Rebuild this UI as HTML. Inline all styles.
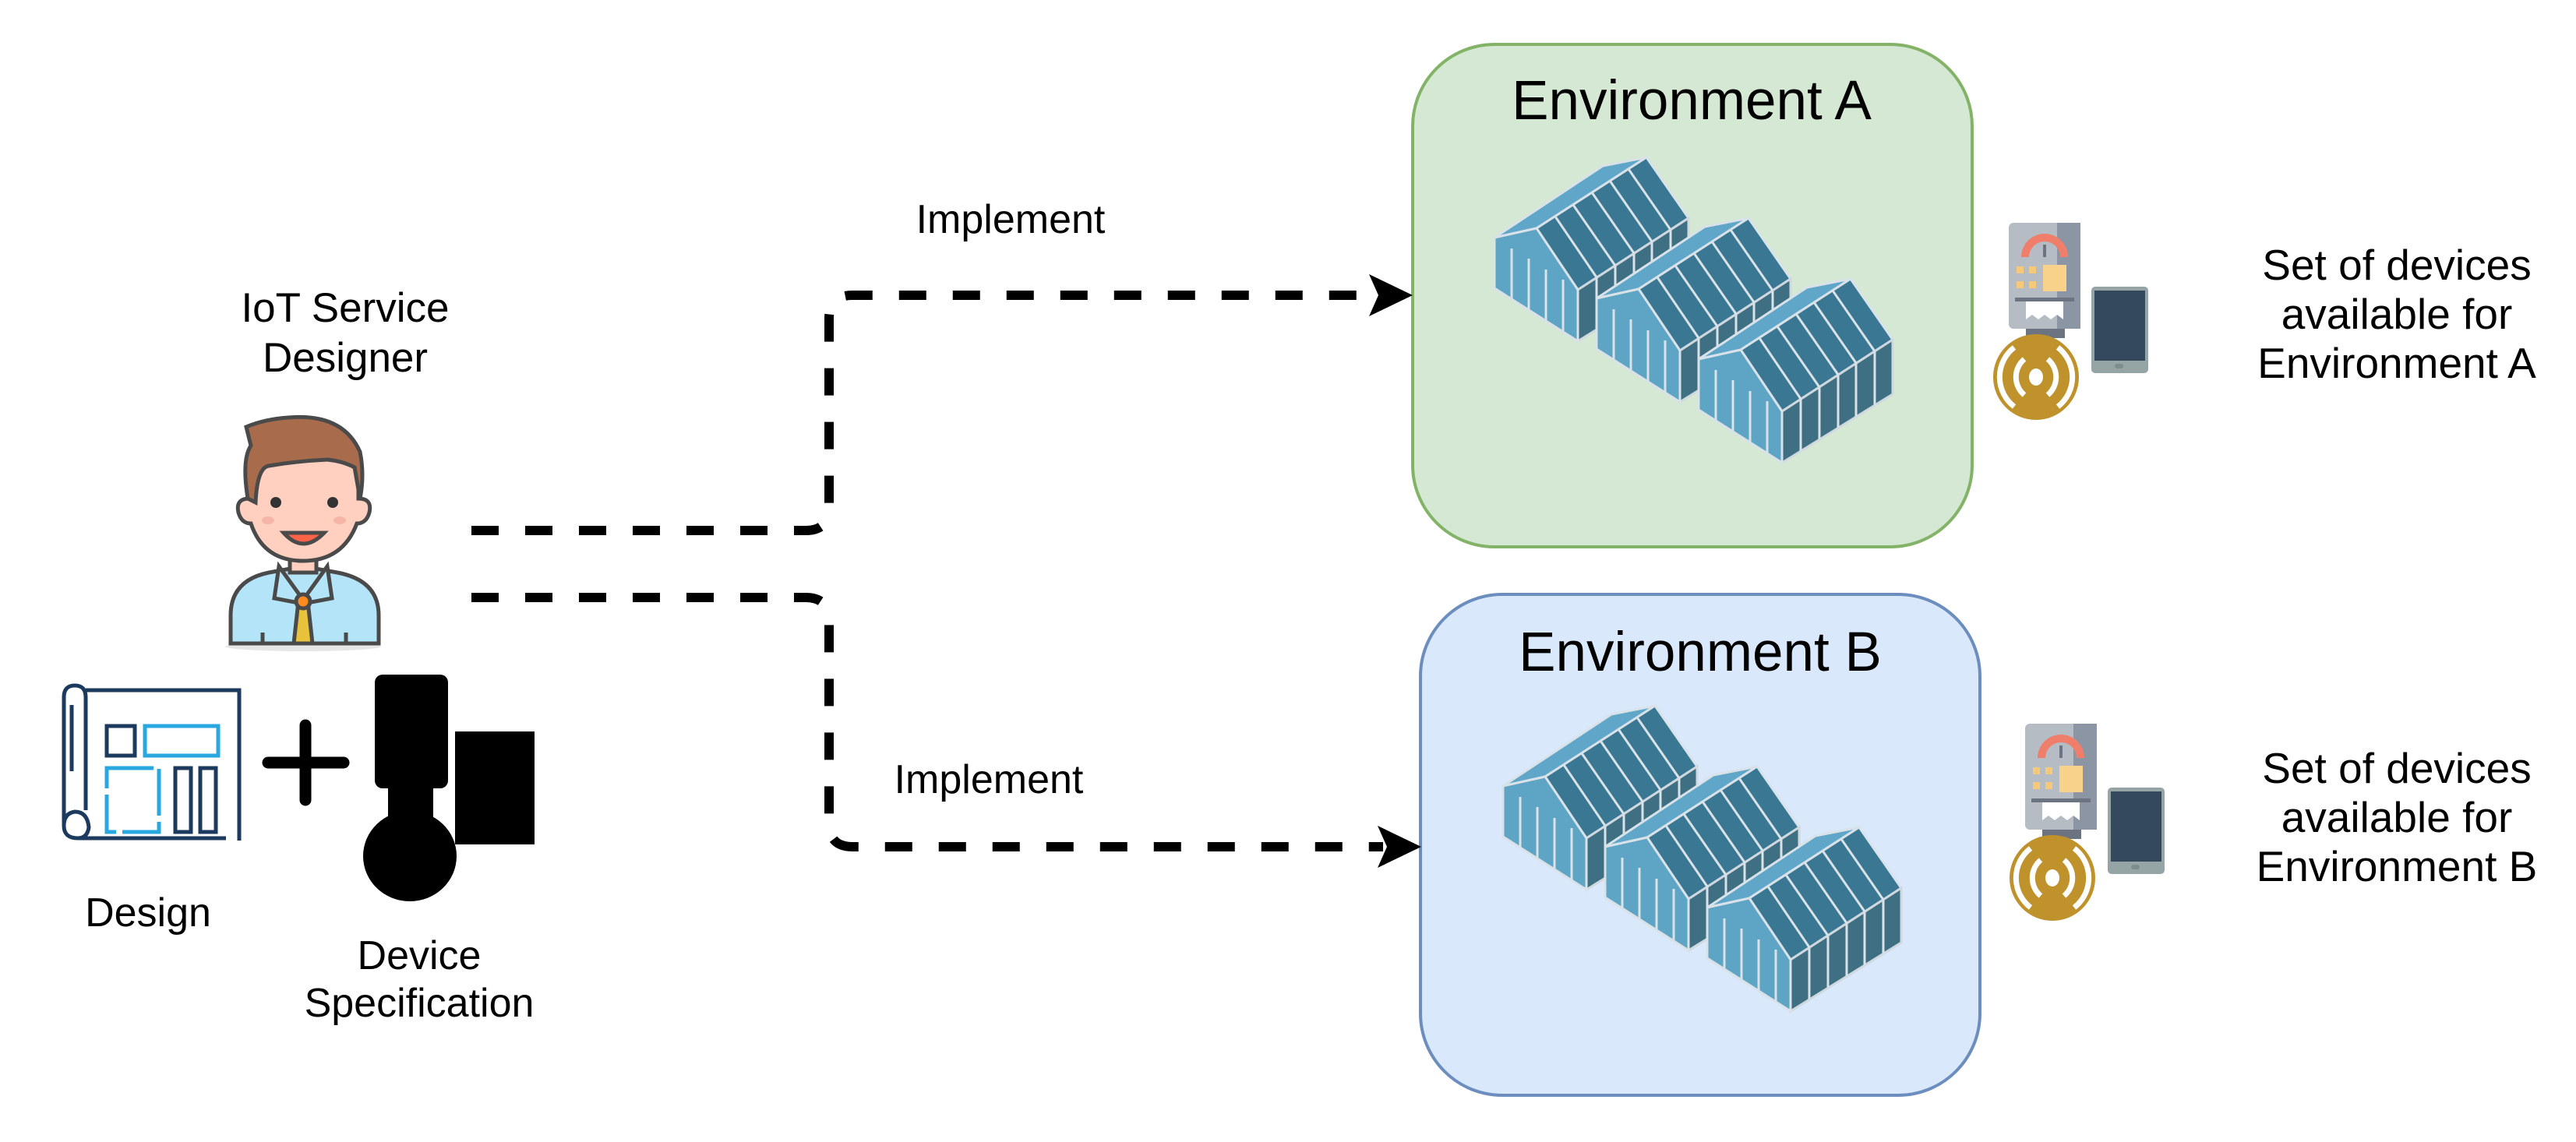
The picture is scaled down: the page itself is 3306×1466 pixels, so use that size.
<!DOCTYPE html>
<html><head><meta charset="utf-8"><style>
html,body{margin:0;padding:0;background:#fff;}
svg{display:block;}
text{font-family:"Liberation Sans",Arial,sans-serif;fill:#000;}
</style></head><body>
<svg width="3306" height="1466" viewBox="0 0 3306 1466" xmlns="http://www.w3.org/2000/svg">
<defs>
  <g id="gh">
    <!-- left roof plane -->
    <polygon points="0,0 54,-12 195,-103 139,-92" fill="#5fa6c9" stroke="#d8e2e8" stroke-width="3"/>
    <!-- right roof plane -->
    <polygon points="54,-12 195,-103 249,-25 107,67" fill="#3a7792" stroke="#d8e2e8" stroke-width="3"/>
    <!-- side wall -->
    <polygon points="107,67 249,-25 249,45 107,133" fill="#3f6f82" stroke="#cfd8de" stroke-width="3"/>
    <!-- front gable wall -->
    <polygon points="0,0 54,-12 107,67 107,133 0,65" fill="#5ea4c4" stroke="#d8e2e8" stroke-width="3"/>
    <g stroke="#d8e2e8" stroke-width="3">
      <line x1="78" y1="-27" x2="131" y2="51"/>
      <line x1="101" y1="-42" x2="155" y2="36"/>
      <line x1="125" y1="-58" x2="179" y2="20"/>
      <line x1="148" y1="-73" x2="202" y2="5"/>
      <line x1="172" y1="-88" x2="226" y2="-10"/>
      <line x1="22" y1="14" x2="22" y2="79"/>
      <line x1="44" y1="27" x2="44" y2="92"/>
      <line x1="66" y1="41" x2="66" y2="106"/>
      <line x1="88" y1="54" x2="88" y2="120"/>
      <line x1="131" y1="51" x2="131" y2="118"/>
      <line x1="155" y1="36" x2="155" y2="103"/>
      <line x1="179" y1="20" x2="179" y2="88"/>
      <line x1="202" y1="5" x2="202" y2="74"/>
      <line x1="226" y1="-10" x2="226" y2="60"/>
    </g>
  </g>
  <g id="ghs">
    <use href="#gh" x="0" y="0"/>
    <use href="#gh" x="131" y="78"/>
    <use href="#gh" x="262" y="156"/>
  </g>
  <g id="dev">
    <rect x="0" y="0" width="92" height="136" rx="6" fill="#b5bcc4"/>
    <rect x="62" y="0" width="30" height="136" fill="#8b95a3"/>
    <path d="M16,44 A30,30 0 0 1 76,44 L66,44 A20,20 0 0 0 26,44 Z" fill="#ef7f6a"/>
    <rect x="44" y="28" width="4" height="16" fill="#6b7480"/>
    <rect x="10" y="56" width="9" height="9" fill="#f6c97a"/><rect x="26" y="56" width="9" height="9" fill="#f6c97a"/>
    <rect x="10" y="75" width="9" height="9" fill="#f6c97a"/><rect x="26" y="75" width="9" height="9" fill="#f6c97a"/>
    <rect x="44" y="54" width="30" height="34" fill="#f8d28a"/>
    <rect x="8" y="96" width="76" height="5" fill="#6b7480"/>
    <path d="M22,101 H70 V124 L62,118 L54,124 L46,118 L38,124 L30,118 L22,124 Z" fill="#fff"/>
    <rect x="22" y="136" width="50" height="12" fill="#6b7480"/>
    <ellipse cx="35" cy="198" rx="55" ry="55" fill="#c0922c"/>
    <g fill="none" stroke="#fff" stroke-width="7">
      <path d="M20,175 A30,30 0 0 0 20,221"/><path d="M50,175 A30,30 0 0 1 50,221"/>
      <path d="M7,160 A48,48 0 0 0 7,236"/><path d="M63,160 A48,48 0 0 1 63,236"/>
    </g>
    <ellipse cx="35" cy="198" rx="9" ry="11" fill="#fff"/>
    <rect x="106" y="82" width="73" height="111" rx="5" fill="#95a5a6"/>
    <rect x="110" y="87" width="65" height="90" fill="#34495e"/>
    <rect x="136" y="181" width="11" height="6" rx="3" fill="#7f8c8d"/>
  </g>
</defs>

<!-- Environment A -->
<rect x="1813" y="57" width="718" height="645" rx="105" fill="#d5e8d4" stroke="#82b366" stroke-width="4"/>
<text x="2171" y="153" font-size="71" text-anchor="middle">Environment A</text>
<use href="#ghs" x="1918" y="305"/>

<!-- Environment B -->
<rect x="1823" y="763" width="718" height="643" rx="105" fill="#dae8fc" stroke="#6c8ebf" stroke-width="4"/>
<text x="2182" y="861" font-size="71" text-anchor="middle">Environment B</text>
<use href="#ghs" x="1929" y="1009"/>

<!-- devices -->
<use href="#dev" x="2578" y="286"/>
<use href="#dev" x="2599" y="929"/>
<g font-size="55" text-anchor="middle">
<text x="3076" y="359">Set of devices</text>
<text x="3076" y="422">available for</text>
<text x="3076" y="485">Environment A</text>
<text x="3076" y="1005">Set of devices</text>
<text x="3076" y="1068">available for</text>
<text x="3076" y="1131">Environment B</text>
</g>

<!-- connectors -->
<g fill="none" stroke="#000" stroke-width="12" stroke-dasharray="35 34">
  <path d="M605,681 H1034 Q1064,681 1064,651 V409 Q1064,379 1094,379 H1765"/>
  <path d="M605,767 H1034 Q1064,767 1064,797 V1057 Q1064,1087 1094,1087 H1775"/>
</g>
<polygon points="1813,379 1757,352 1769,379 1757,406" fill="#000"/>
<polygon points="1824,1087 1768,1060 1780,1087 1768,1114" fill="#000"/>
<g font-size="52" text-anchor="middle">
<text x="1297" y="299">Implement</text>
<text x="1269" y="1018">Implement</text>
</g>

<!-- Designer -->
<g font-size="53" text-anchor="middle">
<text x="443" y="413">IoT Service</text>
<text x="443" y="477">Designer</text>
</g>
<g stroke="#4a4a4a" stroke-width="5">
  <ellipse cx="389" cy="830" rx="100" ry="6" fill="#e6e6e6" stroke="none"/>
  <path d="M296,826 V790 Q296,745 345,735 L389,727 L433,735 Q486,745 486,790 V826 Z" fill="#b3e4f8"/>
  <rect x="372" y="700" width="34" height="35" fill="#ffcfc0"/>
  <path d="M358,727 L389,770 L420,727 L426,768 L389,775 L352,768 Z" fill="#b3e4f8"/>
  <path d="M383,772 L395,772 L401,826 L377,826 Z" fill="#e8c23a"/>
  <circle cx="389" cy="772" r="9" fill="#ff8a1e"/>
  <line x1="337" y1="812" x2="337" y2="826"/><line x1="444" y1="812" x2="444" y2="826"/>
  <path d="M320,600 Q320,560 389,558 Q460,560 460,600 L460,640 Q478,640 474,658 Q470,672 458,672 Q440,720 389,720 Q338,720 322,672 Q310,672 306,658 Q302,640 320,640 Z" fill="#ffcfc0"/>
  <path d="M318,640 Q310,590 322,572 L316,548 Q340,538 370,536 Q440,530 462,580 Q468,610 462,640 L455,600 Q440,592 420,590 Q380,592 345,598 Q330,600 328,645 Z" fill="#a86b4c"/>
  <circle cx="354" cy="645" r="7" fill="#333" stroke="none"/>
  <circle cx="427" cy="645" r="7" fill="#333" stroke="none"/>
  <path d="M364,684 Q389,712 416,684 Z" fill="#ff6347"/>
  <ellipse cx="344" cy="668" rx="8" ry="5" fill="#f7b5a8" stroke="none"/>
  <ellipse cx="436" cy="668" rx="8" ry="5" fill="#f7b5a8" stroke="none"/>
</g>

<!-- Design icon -->
<g fill="none" stroke="#1c3a5e" stroke-width="5">
  <path d="M100,1076 H290"/>
  <path d="M110,886 H307 V1079"/>
  <path d="M82,1060 V895 Q82,880 96,880 Q110,880 110,895 V1040"/>
  <path d="M82,1060 Q82,1076 100,1076 Q112,1076 114,1062 Q112,1042 96,1042 Q82,1044 82,1060"/>
  <line x1="92" y1="905" x2="92" y2="990"/>
  <rect x="137" y="932" width="36" height="38"/>
  <rect x="225" y="986" width="20" height="82"/>
  <rect x="257" y="986" width="20" height="82"/>
</g>
<g fill="none" stroke="#29a8e0" stroke-width="5">
  <path d="M186,932 H280 V970 H186 Z"/>
  <path d="M137,986 H204 V1068 H137 Z" stroke-dasharray="60 8"/>
</g>
<!-- plus -->
<g stroke="#000" stroke-width="15" stroke-linecap="round">
  <line x1="392" y1="931" x2="392" y2="1027"/>
  <line x1="344" y1="979" x2="441" y2="979"/>
</g>
<!-- device spec -->
<rect x="481" y="866" width="94" height="146" rx="10" fill="#000"/>
<rect x="498" y="1005" width="58" height="45" fill="#000"/>
<ellipse cx="526" cy="1099" rx="60" ry="58" fill="#000"/>
<rect x="584" y="939" width="102" height="145" fill="#000"/>
<g font-size="52" text-anchor="middle">
<text x="190" y="1189">Design</text>
<text x="538" y="1244">Device</text>
<text x="538" y="1305">Specification</text>
</g>
</svg>
</body></html>
